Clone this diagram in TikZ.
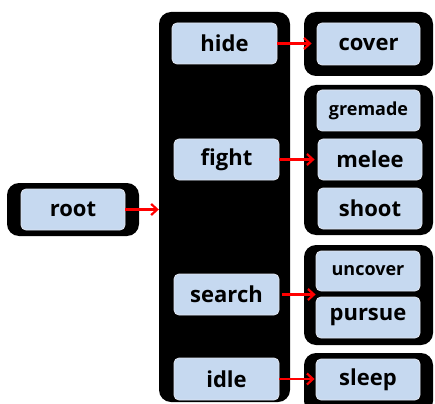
\documentclass[tikz,border=0pt]{standalone}
\usepackage{fontspec}
\setmainfont{Open Sans}
\usetikzlibrary{arrows.meta}
\definecolor{nodeblue}{RGB}{198,217,240}
\definecolor{edgegray}{RGB}{225,230,240}
\tikzset{
  cont/.style={draw=none, fill=black, rounded corners=12pt, inner sep=0pt},
  leaf/.style={draw=edgegray, line width=0.8pt, fill=nodeblue, rounded corners=5pt, inner sep=0pt,
    font=\fontsize{22}{22}\selectfont\bfseries},
  smallleaf/.style={leaf, font=\fontsize{18}{18}\selectfont\bfseries},
  link/.style={draw=red, line width=2.2pt, -{Straight Barb[length=6pt,width=11pt,line width=2.2pt]}},
}
\begin{document}
\begin{tikzpicture}[x=1pt,y=-1pt]
\useasboundingbox (0,0) rectangle (435,403);
% containers
\node[cont, minimum width=132pt, minimum height=53pt] (rootc) at (73,209.5) {};
\node[cont, minimum width=131pt, minimum height=390pt] (midc) at (224.5,207) {};
\node[cont, minimum width=129pt, minimum height=64pt] (coverc) at (368.5,44) {};
\node[cont, minimum width=129pt, minimum height=150pt] (fightc) at (368.5,160) {};
\node[cont, minimum width=129pt, minimum height=100pt] (searchc) at (368.5,295) {};
\node[cont, minimum width=129pt, minimum height=60pt] (idlec) at (368.5,383) {};
% leaves
\node[leaf, minimum width=104pt, minimum height=41pt] (root) at (73,209.5) {root};
\node[leaf, minimum width=105pt, minimum height=41pt] (hide) at (224.5,43.5) {hide};
\node[leaf, minimum width=105pt, minimum height=41pt] (fight) at (226.5,159.5) {fight};
\node[leaf, minimum width=105pt, minimum height=41pt] (search) at (226.5,294.5) {search};
\node[leaf, minimum width=105pt, minimum height=42pt] (idle) at (226.5,379) {idle};
\node[leaf, minimum width=103pt, minimum height=42pt] (cover) at (368.5,44) {cover};
\node[smallleaf, minimum width=103pt, minimum height=41pt] (gremade) at (368.5,110.5) {gremade};
\node[leaf, minimum width=104pt, minimum height=41pt] (melee) at (370,159.5) {melee};
\node[leaf, minimum width=104pt, minimum height=41pt] (shoot) at (370,208.5) {shoot};
\node[smallleaf, minimum width=104pt, minimum height=40pt] (uncover) at (368,271) {uncover};
\node[leaf, minimum width=104pt, minimum height=41pt] (pursue) at (368,317.5) {pursue};
\node[leaf, minimum width=104pt, minimum height=41pt] (sleep) at (368,379.5) {sleep};
% links
\draw[link] (root.east) -- (root.east -| midc.west);
\draw[link] (hide.east) -- ([xshift=-5pt]hide.east -| cover.west);
\draw[link] (fight.east) -- ([xshift=-3pt]fight.east -| melee.west);
\draw[link, shorten <=3pt] (search.east) -- (search.east -| uncover.west);
\draw[link] (idle.east) -- ([xshift=-1pt]idle.east -| sleep.west);
\end{tikzpicture}
\end{document}
